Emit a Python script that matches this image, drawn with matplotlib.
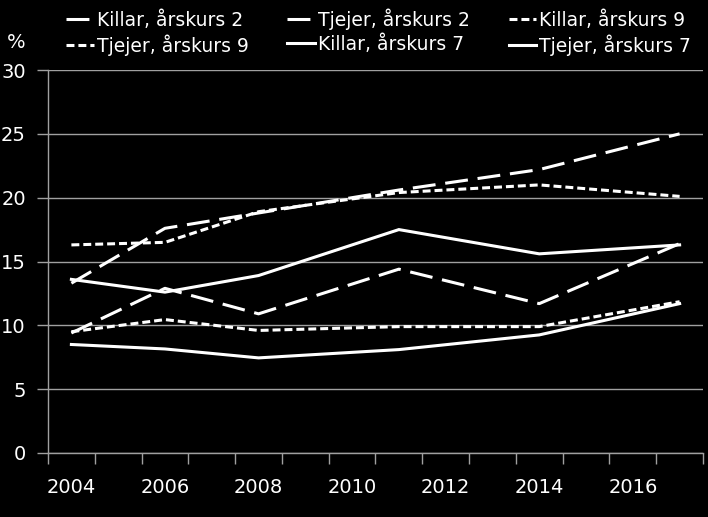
import matplotlib
matplotlib.use("Agg")
import matplotlib.pyplot as plt
import numpy as np

years = [2004, 2006, 2008, 2011, 2014, 2017]
labels = ["Killar, årskurs 2", "Tjejer, årskurs 2", "Killar, årskurs 9",
          "Tjejer, årskurs 9", "Killar, årskurs 7", "Tjejer, årskurs 7"]
killar_2 = [9.4, 12.9, 10.9, 14.4, 11.7, 16.4]
tjejer_2 = [13.3, 17.6, 18.8, 20.6, 22.2, 25.0]
killar_9 = [9.5, 10.45, 9.6, 9.9, 9.9, 11.85]
tjejer_9 = [16.3, 16.5, 18.9, 20.4, 21.0, 20.1]
killar_7 = [8.5, 8.15, 7.45, 8.1, 9.25, 11.7]
tjejer_7 = [13.6, 12.6, 13.9, 17.5, 15.6, 16.3]
y_ticks = [0, 5, 10, 15, 20, 25, 30]
x_labels = [2004, 2006, 2008, 2010, 2012, 2014, 2016]

plt.rcParams['font.family'] = ["DejaVu Sans"]

W, H = 708, 517
fig = plt.figure(figsize=(W/100, H/100), dpi=100, facecolor="black")
ax = fig.add_axes([48/W, 1-453/H, 655/W, 383/H])
ax.set_facecolor("black")

long_dash = (0, (7.5, 3.2))
short_dash = (0, (2.6, 1.3))
series = [killar_2, tjejer_2, killar_9, tjejer_9, killar_7, tjejer_7]
styles = [long_dash, long_dash, short_dash, short_dash, "-", "-"]
handles = []
for vals, ls, lab in zip(series, styles, labels):
    h, = ax.plot(years, vals, color="white", lw=2.2, linestyle=ls, label=lab,
                 solid_joinstyle="miter", dash_capstyle="butt")
    handles.append(h)

ax.set_xlim(2003.5, 2017.5)
ax.set_ylim(0, 30)
grid_c = "#a0a0a0"
ax.set_yticks(y_ticks)
ax.set_yticklabels([str(v) for v in y_ticks])
ax.yaxis.grid(True, color=grid_c, lw=1)
ax.set_axisbelow(True)
ax.tick_params(axis='y', length=8, color=grid_c, width=1, labelcolor="white",
               labelsize=14, pad=8)
ax.set_xticks(np.arange(2003.5, 2018, 1))
ax.set_xticklabels([])
ax.set_xticks(x_labels, minor=True)
ax.set_xticklabels([str(v) for v in x_labels], minor=True)
ax.tick_params(axis='x', which='major', length=8, color=grid_c, width=1)
ax.tick_params(axis='x', which='minor', length=8, width=0, labelcolor="white",
               labelsize=14, pad=10)
for s in ["top", "right"]:
    ax.spines[s].set_visible(False)
for s in ["left", "bottom"]:
    ax.spines[s].set_color(grid_c)
    ax.spines[s].set_linewidth(1)

fig.text(16/W, 1-43/H, "%", color="white", fontsize=14, ha="center", va="center")

order = [0, 3, 1, 4, 2, 5]
leg = fig.legend([handles[i] for i in order], [labels[i] for i in order],
                 ncol=3, loc="upper left", bbox_to_anchor=(66/W, 1-8/H),
                 frameon=False, fontsize=13.5, labelcolor="white",
                 handlelength=1.49, handletextpad=0.16, columnspacing=2.05,
                 labelspacing=0.26, borderaxespad=0, borderpad=0)

fig.savefig("out.png", dpi=100, facecolor="black")
